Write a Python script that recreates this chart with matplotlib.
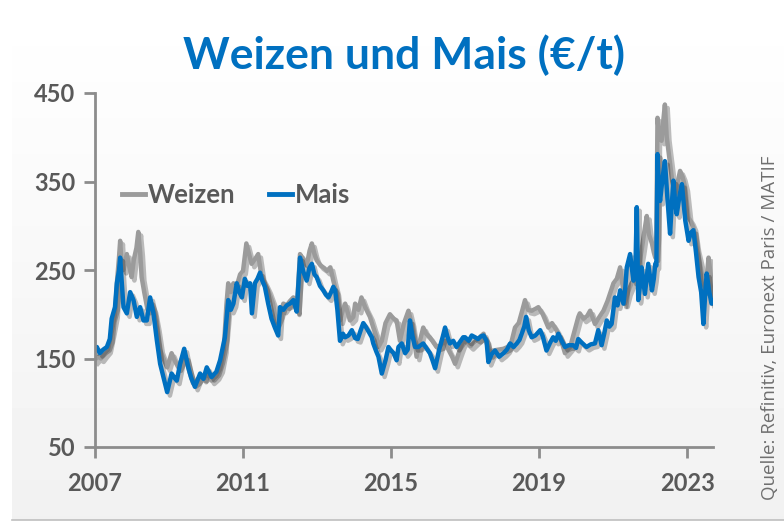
import numpy as np
import matplotlib
matplotlib.use('Agg')
import matplotlib.pyplot as plt
import matplotlib.patheffects as pe

# Daten (Jahr als Dezimalzahl, Preis in €/t)
mais_t = [2007.00, 2007.05, 2007.13, 2007.22, 2007.32, 2007.40, 2007.45, 2007.54, 2007.59, 2007.65,
          2007.68, 2007.72, 2007.77, 2007.86, 2007.95, 2008.04, 2008.13, 2008.22, 2008.31, 2008.40,
          2008.49, 2008.58, 2008.67, 2008.76, 2008.85, 2008.95, 2009.07, 2009.15, 2009.21, 2009.30,
          2009.41, 2009.52, 2009.60, 2009.70, 2009.84, 2009.93, 2010.02, 2010.15, 2010.28, 2010.38,
          2010.51, 2010.60, 2010.67, 2010.74, 2010.83, 2010.90, 2010.97, 2011.05, 2011.12, 2011.19,
          2011.24, 2011.32, 2011.39, 2011.46, 2011.52, 2011.59, 2011.68, 2011.77, 2011.86, 2011.95,
          2012.00, 2012.09, 2012.18, 2012.27, 2012.36, 2012.45, 2012.54, 2012.63, 2012.72, 2012.79,
          2012.86, 2012.93, 2012.99, 2013.08, 2013.17, 2013.24, 2013.31, 2013.38, 2013.44, 2013.49,
          2013.55, 2013.62, 2013.70, 2013.76, 2013.85, 2013.94, 2014.03, 2014.10, 2014.18, 2014.25,
          2014.30, 2014.40, 2014.48, 2014.52, 2014.60, 2014.66, 2014.75, 2014.85, 2014.93, 2015.00,
          2015.07, 2015.15, 2015.20, 2015.29, 2015.38, 2015.45, 2015.51, 2015.58, 2015.65, 2015.74,
          2015.87, 2015.95, 2016.05, 2016.12, 2016.19, 2016.30, 2016.40, 2016.46, 2016.52, 2016.59,
          2016.68, 2016.77, 2016.85, 2016.95, 2017.00, 2017.10, 2017.18, 2017.27, 2017.35, 2017.43,
          2017.50, 2017.58, 2017.63, 2017.72, 2017.81, 2017.92, 2018.04, 2018.13, 2018.22, 2018.31,
          2018.40, 2018.47, 2018.53, 2018.60, 2018.65, 2018.72, 2018.80, 2018.90, 2019.03, 2019.10,
          2019.20, 2019.30, 2019.38, 2019.45, 2019.52, 2019.60, 2019.70, 2019.80, 2019.92, 2020.00,
          2020.06, 2020.15, 2020.28, 2020.40, 2020.51, 2020.60, 2020.69, 2020.76, 2020.83, 2020.90,
          2020.96, 2021.05, 2021.12, 2021.19, 2021.28, 2021.33, 2021.37, 2021.46, 2021.55, 2021.60,
          2021.64, 2021.68, 2021.72, 2021.77, 2021.86, 2021.95, 2022.05, 2022.10, 2022.14, 2022.17,
          2022.20, 2022.24, 2022.27, 2022.34, 2022.40, 2022.47, 2022.54, 2022.58, 2022.63, 2022.68,
          2022.72, 2022.80, 2022.86, 2022.95, 2023.04, 2023.10, 2023.17, 2023.24, 2023.31, 2023.38,
          2023.44, 2023.50, 2023.53, 2023.60, 2023.66, 2023.70]
mais = [160, 163, 156, 160, 163, 172, 195, 208, 235, 250,
        264, 238, 208, 201, 225, 216, 197, 208, 193, 193,
        219, 201, 171, 144, 129, 112, 133, 128, 125, 144,
        161, 140, 128, 118, 133, 127, 140, 129, 135, 148,
        174, 216, 205, 212, 235, 225, 219, 240, 232, 235,
        201, 235, 240, 247, 238, 231, 212, 195, 185, 176,
        208, 205, 210, 212, 216, 203, 264, 248, 238, 252,
        257, 245, 242, 232, 227, 222, 219, 225, 231, 227,
        205, 170, 178, 174, 176, 182, 173, 172, 182, 190,
        187, 180, 174, 167, 158, 152, 133, 148, 163, 159,
        156, 148, 163, 167, 156, 160, 193, 175, 163, 163,
        167, 162, 156, 148, 139, 160, 175, 185, 175, 167,
        170, 163, 168, 174, 174, 170, 176, 174, 172, 175,
        176, 170, 146, 155, 159, 152, 156, 160, 167, 163,
        167, 171, 178, 186, 197, 182, 174, 176, 182, 175,
        159, 168, 174, 170, 178, 171, 163, 165, 165, 162,
        172, 168, 163, 166, 167, 182, 165, 178, 193, 186,
        189, 219, 210, 227, 212, 230, 253, 268, 238, 245,
        321, 216, 230, 253, 223, 257, 227, 240, 257, 255,
        381, 340, 328, 355, 373, 330, 291, 320, 351, 325,
        313, 335, 347, 306, 283, 292, 295, 270, 242, 225,
        189, 230, 246, 225, 212, 215]

weizen_t = [2007.00, 2007.08, 2007.16, 2007.25, 2007.35, 2007.45, 2007.54, 2007.60, 2007.65, 2007.68,
            2007.72, 2007.77, 2007.86, 2007.92, 2007.99, 2008.05, 2008.12, 2008.17, 2008.22, 2008.26,
            2008.33, 2008.42, 2008.49, 2008.58, 2008.67, 2008.76, 2008.85, 2008.95, 2009.07, 2009.15,
            2009.25, 2009.35, 2009.45, 2009.55, 2009.65, 2009.75, 2009.84, 2009.95, 2010.05, 2010.15,
            2010.28, 2010.38, 2010.48, 2010.55, 2010.60, 2010.67, 2010.74, 2010.83, 2010.92, 2011.00,
            2011.09, 2011.15, 2011.23, 2011.32, 2011.41, 2011.50, 2011.59, 2011.68, 2011.81, 2011.90,
            2012.00, 2012.09, 2012.18, 2012.27, 2012.36, 2012.45, 2012.54, 2012.63, 2012.72, 2012.80,
            2012.86, 2012.93, 2012.99, 2013.10, 2013.20, 2013.27, 2013.36, 2013.44, 2013.52, 2013.62,
            2013.70, 2013.76, 2013.89, 2013.98, 2014.03, 2014.12, 2014.20, 2014.30, 2014.43, 2014.52,
            2014.60, 2014.66, 2014.75, 2014.85, 2014.97, 2015.07, 2015.15, 2015.24, 2015.35, 2015.47,
            2015.55, 2015.69, 2015.78, 2015.87, 2015.95, 2016.05, 2016.15, 2016.23, 2016.35, 2016.46,
            2016.55, 2016.65, 2016.73, 2016.82, 2016.95, 2017.05, 2017.15, 2017.22, 2017.35, 2017.50,
            2017.60, 2017.68, 2017.76, 2017.90, 2018.04, 2018.15, 2018.25, 2018.35, 2018.45, 2018.55,
            2018.62, 2018.70, 2018.80, 2018.90, 2018.98, 2019.10, 2019.25, 2019.35, 2019.47, 2019.60,
            2019.70, 2019.84, 2019.95, 2020.06, 2020.10, 2020.20, 2020.30, 2020.38, 2020.51, 2020.60,
            2020.74, 2020.85, 2021.01, 2021.10, 2021.19, 2021.25, 2021.32, 2021.40, 2021.50, 2021.58,
            2021.64, 2021.70, 2021.77, 2021.85, 2021.91, 2021.97, 2022.05, 2022.10, 2022.14, 2022.17,
            2022.20, 2022.25, 2022.31, 2022.36, 2022.40, 2022.45, 2022.54, 2022.60, 2022.68, 2022.75,
            2022.81, 2022.88, 2022.95, 2023.04, 2023.10, 2023.17, 2023.25, 2023.35, 2023.42, 2023.49,
            2023.55, 2023.58, 2023.65, 2023.72]
weizen = [148, 152, 150, 155, 160, 180, 200, 240, 265, 283,
          255, 250, 268, 255, 242, 262, 275, 293, 270, 242,
          225, 205, 215, 205, 185, 160, 150, 140, 156, 148,
          140, 150, 152, 135, 122, 125, 130, 128, 132, 125,
          130, 138, 160, 210, 235, 225, 235, 232, 245, 249,
          280, 270, 257, 262, 268, 242, 235, 227, 212, 190,
          200, 212, 210, 215, 219, 204, 268, 262, 255, 272,
          280, 268, 261, 255, 252, 249, 253, 238, 225, 193,
          205, 212, 193, 197, 212, 205, 219, 208, 197, 185,
          175, 163, 170, 190, 200, 195, 193, 170, 190, 204,
          190, 152, 170, 185, 178, 174, 168, 163, 165, 170,
          160, 152, 144, 155, 170, 168, 164, 167, 172, 178,
          165, 155, 159, 160, 161, 163, 168, 185, 190, 205,
          216, 205, 204, 206, 208, 200, 185, 190, 182, 170,
          156, 163, 180, 197, 201, 195, 198, 204, 189, 195,
          204, 215, 235, 240, 253, 235, 212, 225, 235, 240,
          249, 255, 272, 295, 311, 290, 280, 270, 264, 290,
          422, 400, 396, 420, 437, 400, 370, 350, 336, 350,
          362, 355, 343, 309, 305, 298, 275, 257, 240, 227,
          250, 264, 240, 212]

jahre = [2007, 2011, 2015, 2019, 2023]
y_ticks = [50, 150, 250, 350, 450]

blau = '#0070C0'
grau = '#9b9b9b'
text_grau = '#595959'

plt.rcParams['font.family'] = ['Lato', 'DejaVu Sans']

fig = plt.figure(figsize=(7.84, 5.24), dpi=100)
fig.patch.set_facecolor('white')

# Hintergrund mit leichtem Verlauf
bg = fig.add_axes([12/784, 4/524, 772/784, 512/524], zorder=-5)
grad = np.linspace(1.0, 0.945, 256).reshape(-1, 1)
bg.imshow(grad, aspect='auto', cmap='gray', vmin=0, vmax=1, extent=[0, 1, 0, 1])
bg.axis('off')
fig.add_artist(plt.Line2D([12/784, 1], [4/524, 4/524], color='#bfbfbf', lw=1.2))

ax = fig.add_axes([95/784, 1-447/524, 618/784, 354/524])
ax.set_facecolor('none')

shadow = [pe.SimpleLineShadow(offset=(2, -2.5), shadow_color='black', alpha=0.25), pe.Normal()]
ax.plot(weizen_t, weizen, color=grau, lw=3.2, label='Weizen', path_effects=shadow, solid_joinstyle='round')
ax.plot(mais_t, mais, color=blau, lw=3.2, label='Mais', path_effects=shadow, solid_joinstyle='round')

ax.set_xlim(2007, 2023.7)
ax.set_ylim(50, 450)
ax.set_xticks(jahre)
ax.set_xticklabels([str(j) for j in jahre])
ax.set_yticks(y_ticks)
for s in ['top', 'right']:
    ax.spines[s].set_visible(False)
for s in ['left', 'bottom']:
    ax.spines[s].set_color('#8c8c8c')
    ax.spines[s].set_linewidth(2)
ax.tick_params(axis='both', colors='#8c8c8c', width=2, length=8, direction='out',
               labelcolor=text_grau, labelsize=17)
ax.tick_params(axis='x', pad=10)
ax.tick_params(axis='y', pad=6)
for lab in ax.get_xticklabels() + ax.get_yticklabels():
    lab.set_fontweight('bold')

leg = ax.legend(loc='center', bbox_to_anchor=(0.228, 0.712), ncol=2, frameon=False,
                handlelength=0.9, handletextpad=0.1, columnspacing=1.3, fontsize=18.5)
for t in leg.get_texts():
    t.set_color(text_grau)
    t.set_fontweight('bold')
for h in leg.get_lines():
    h.set_linewidth(3.5)
    h.set_path_effects([])

fig.text(404/784, 1-55/524, 'Weizen und Mais (€/t)', ha='center', va='center',
         fontsize=32, fontweight='bold', color=blau)
fig.text(770/784, 1-328/524, 'Quelle: Refinitiv, Euronext Paris / MATIF', rotation=90,
         ha='center', va='center', fontsize=13.5, color='#6f6f6f', family=['Open Sans', 'DejaVu Sans'])

fig.savefig('out.png', dpi=100)
